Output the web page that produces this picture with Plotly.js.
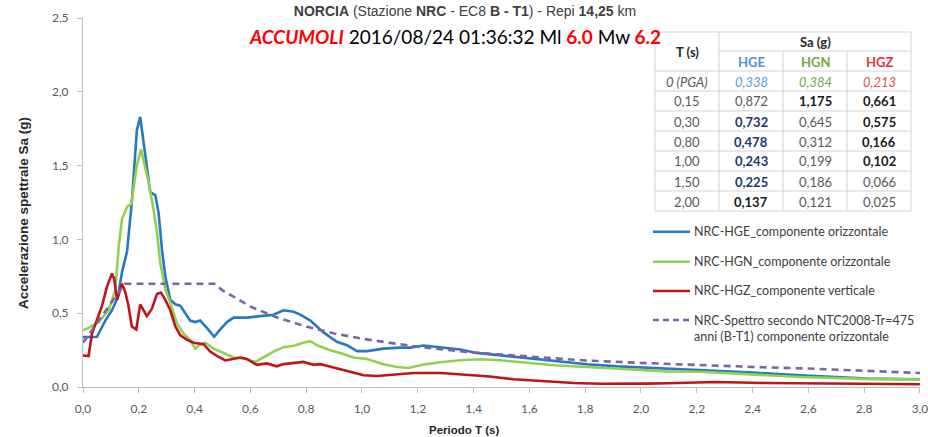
<!DOCTYPE html>
<html><head><meta charset="utf-8">
<script src="https://cdn.plot.ly/plotly-3.0.1.min.js"></script>
<style>html,body{margin:0;padding:0;background:#fff}#chart{width:928px;height:437px}</style>
</head><body><div id="chart"></div>
<script>
// ---------- DATA ----------
const periodHGE = [0, 0.05, 0.08, 0.104, 0.125, 0.14, 0.152, 0.158, 0.165, 0.175, 0.185, 0.193, 0.205, 0.217, 0.229, 0.241, 0.259, 0.271, 0.283, 0.295, 0.313, 0.331, 0.349, 0.367, 0.384, 0.402, 0.42, 0.444, 0.47, 0.492, 0.516, 0.54, 0.587, 0.635, 0.683, 0.719, 0.755, 0.779, 0.815, 0.862, 0.91, 0.946, 0.982, 1.018, 1.077, 1.137, 1.173, 1.221, 1.281, 1.352, 1.412, 1.496, 1.603, 1.687, 1.806, 1.914, 2.02, 2.093, 2.213, 2.4, 2.57, 2.81, 3.0];
const saHGE = [0.338, 0.34, 0.45, 0.52, 0.61, 0.78, 0.872, 0.92, 1.06, 1.25, 1.52, 1.74, 1.83, 1.66, 1.48, 1.32, 1.30, 1.18, 0.93, 0.75, 0.59, 0.56, 0.55, 0.50, 0.45, 0.44, 0.45, 0.40, 0.34, 0.39, 0.44, 0.47, 0.47, 0.48, 0.49, 0.52, 0.51, 0.49, 0.45, 0.37, 0.306, 0.283, 0.243, 0.243, 0.26, 0.267, 0.267, 0.281, 0.267, 0.254, 0.231, 0.215, 0.193, 0.177, 0.154, 0.14, 0.131, 0.125, 0.118, 0.098, 0.079, 0.057, 0.052];

const periodHGN = [0, 0.02, 0.056, 0.092, 0.116, 0.128, 0.14, 0.158, 0.173, 0.181, 0.193, 0.208, 0.223, 0.235, 0.253, 0.265, 0.277, 0.295, 0.313, 0.337, 0.361, 0.384, 0.402, 0.414, 0.438, 0.468, 0.504, 0.54, 0.587, 0.617, 0.647, 0.683, 0.719, 0.755, 0.79, 0.814, 0.839, 0.886, 0.922, 0.97, 1.018, 1.077, 1.125, 1.167, 1.221, 1.281, 1.352, 1.424, 1.496, 1.591, 1.687, 1.806, 1.926, 2.093, 2.213, 2.4, 2.57, 2.8, 3.0];
const saHGN = [0.384, 0.40, 0.44, 0.52, 0.66, 0.95, 1.14, 1.22, 1.24, 1.36, 1.50, 1.61, 1.48, 1.39, 1.20, 1.05, 0.84, 0.66, 0.57, 0.43, 0.36, 0.32, 0.26, 0.28, 0.30, 0.26, 0.23, 0.20, 0.19, 0.17, 0.20, 0.24, 0.27, 0.28, 0.30, 0.31, 0.283, 0.249, 0.231, 0.20, 0.19, 0.154, 0.136, 0.129, 0.152, 0.168, 0.181, 0.188, 0.181, 0.163, 0.147, 0.136, 0.125, 0.106, 0.103, 0.085, 0.068, 0.055, 0.05];

const periodHGZ = [0, 0.02, 0.032, 0.05, 0.068, 0.086, 0.104, 0.112, 0.122, 0.14, 0.152, 0.163, 0.175, 0.191, 0.205, 0.217, 0.229, 0.247, 0.265, 0.279, 0.295, 0.313, 0.331, 0.349, 0.373, 0.396, 0.432, 0.456, 0.48, 0.51, 0.534, 0.564, 0.587, 0.623, 0.659, 0.695, 0.719, 0.755, 0.79, 0.827, 0.851, 0.898, 0.958, 1.006, 1.054, 1.113, 1.185, 1.281, 1.352, 1.448, 1.543, 1.639, 1.758, 1.854, 1.95, 2.02, 2.093, 2.27, 2.45, 2.81, 3.0];
const saHGZ = [0.213, 0.21, 0.36, 0.45, 0.55, 0.68, 0.77, 0.73, 0.59, 0.70, 0.64, 0.55, 0.41, 0.39, 0.56, 0.52, 0.48, 0.53, 0.63, 0.64, 0.59, 0.52, 0.41, 0.35, 0.32, 0.30, 0.29, 0.24, 0.21, 0.18, 0.19, 0.20, 0.19, 0.15, 0.16, 0.14, 0.155, 0.165, 0.17, 0.15, 0.155, 0.132, 0.102, 0.08, 0.075, 0.086, 0.095, 0.095, 0.084, 0.073, 0.052, 0.039, 0.027, 0.022, 0.02, 0.023, 0.025, 0.034, 0.027, 0.023, 0.019];

const periodNTC = [0, 0.15, 0.47, 0.5, 0.6, 0.7, 0.8, 0.9, 1.0, 1.2, 1.4, 1.6, 1.8, 2.0, 2.2, 2.4, 2.6, 2.8, 3.0];
const saNTC = [0.30, 0.70, 0.70, 0.655, 0.545, 0.467, 0.41, 0.363, 0.327, 0.272, 0.233, 0.204, 0.18, 0.163, 0.148, 0.136, 0.125, 0.11, 0.095];

const seriesNames = ['NRC-HGE_componente orizzontale', 'NRC-HGN_componente orizzontale', 'NRC-HGZ_componente verticale', 'NRC-Spettro secondo NTC2008-Tr=475<br>anni (B-T1) componente orizzontale'];

const tableHeaderT = 'T (s)';
const tableHeaderSa = 'Sa (g)';
const tableColumns = ['HGE', 'HGN', 'HGZ'];
const tablePeriods = ['0 (PGA)', '0,15', '0,30', '0,80', '1,00', '1,50', '2,00'];
const tableHGE = ['0,338', '0,872', '0,732', '0,478', '0,243', '0,225', '0,137'];
const tableHGN = ['0,384', '1,175', '0,645', '0,312', '0,199', '0,186', '0,121'];
const tableHGZ = ['0,213', '0,661', '0,575', '0,166', '0,102', '0,066', '0,025'];

const titleLine1 = '<b>NORCIA</b> (Stazione <b>NRC</b> - EC8 <b>B - T1</b>) - Repi <b>14,25</b> km';
const titleLine2 = '<b><i><span style="color:#ff0000">ACCUMOLI</span></i></b> 2016/08/24 01:36:32 Ml <b><span style="color:#ff0000">6.0</span></b> Mw <b><span style="color:#ff0000">6.2</span></b>';
const xTitle = 'Periodo T (s)';
const yTitle = 'Accelerazione spettrale Sa (g)';

// ---------- STYLES ----------
const colors = ['#2479c1', '#92d050', '#c0141c', '#8064a2'];
// cell style per table column: 'i' italic coloured, 'n' normal grey, 'b' bold black, 'v' bold navy
const styleHGE = ['i', 'n', 'v', 'v', 'v', 'v', 'b'];
const styleHGN = ['i', 'b', 'n', 'n', 'n', 'n', 'n'];
const styleHGZ = ['i', 'b', 'b', 'b', 'b', 'n', 'n'];
const headColors = ['#4d94d0', '#76a83c', '#e2323a'];
const pgaColors = ['#5b9bd5', '#70a840', '#e05050'];

// ---------- GEOMETRY ----------
const L = 83, R = 920, T = 18, B = 387;
const px = x => (x - L) / (R - L);
const py = y => (B - y) / (B - T);

const FONT = 'Lato, "Open Sans", sans-serif';
const TICKFONT = 'Lato, sans-serif';

const traces = [
  {x: periodHGE, y: saHGE, name: seriesNames[0], mode: 'lines', line: {color: colors[0], width: 2.6}},
  {x: periodHGN, y: saHGN, name: seriesNames[1], mode: 'lines', line: {color: colors[1], width: 2.6}},
  {x: periodHGZ, y: saHGZ, name: seriesNames[2], mode: 'lines', line: {color: colors[2], width: 2.6}},
  {x: periodNTC, y: saNTC, name: seriesNames[3], mode: 'lines', line: {color: colors[3], width: 2.6, dash: '7px,5px'}}
];
traces.forEach(t => t.showlegend = false);

const shapes = [];
const annotations = [];
const bc = '#d4d4d4';
function hline(y, x0, x1) { shapes.push({type: 'line', xref: 'paper', yref: 'paper', x0: px(x0), x1: px(x1), y0: py(y), y1: py(y), line: {color: bc, width: 1}, layer: 'above'}); }
function vline(x, y0, y1) { shapes.push({type: 'line', xref: 'paper', yref: 'paper', x0: px(x), x1: px(x), y0: py(y0), y1: py(y1), line: {color: bc, width: 1}, layer: 'above'}); }

// table
const colX = [655, 719, 783, 847, 911];
const rowTop = 71, rowH = 20;
const nRows = tablePeriods.length;
const tableBottom = rowTop + nRows * rowH;
shapes.push({type: 'rect', xref: 'paper', yref: 'paper', x0: px(colX[0]), x1: px(colX[4]), y0: py(32), y1: py(tableBottom), fillcolor: '#ffffff', line: {width: 0}, layer: 'above'});
hline(32, colX[0], colX[4]);
hline(51, colX[1], colX[4]);
for (let i = 0; i <= nRows; i++) hline(rowTop + i * rowH, colX[0], colX[4]);
vline(colX[0], 32, tableBottom);
vline(colX[1], 32, tableBottom);
vline(colX[2], 51, tableBottom);
vline(colX[3], 51, tableBottom);
vline(colX[4], 32, tableBottom);

function txt(text, x, y, font, extra) {
  annotations.push(Object.assign({text: text, xref: 'paper', yref: 'paper', x: px(x), y: py(y), xanchor: 'center', yanchor: 'middle', showarrow: false, font: font}, extra || {}));
}
const cx = i => (colX[i] + colX[i + 1]) / 2;
txt('<b>' + tableHeaderT + '</b>', cx(0), 52, {family: FONT, size: 13, color: '#262626'});
txt('<b>' + tableHeaderSa + '</b>', (colX[1] + colX[4]) / 2, 42, {family: FONT, size: 13, color: '#262626'});
tableColumns.forEach((c, i) => txt('<b>' + c + '</b>', cx(i + 1), 62, {family: FONT, size: 13, color: headColors[i]}));
const colVals = [tableHGE, tableHGN, tableHGZ];
const colStyles = [styleHGE, styleHGN, styleHGZ];
tablePeriods.forEach((p, r) => {
  const yc = rowTop + r * rowH + rowH / 2 + 0.5;
  txt(r === 0 ? '<i>' + p + '</i>' : p, cx(0), yc, {family: FONT, size: 13, color: '#595959'});
  colVals.forEach((vals, c) => {
    const s = colStyles[c][r];
    let t = vals[r], col = '#595959';
    if (s === 'i') { t = '<i>' + t + '</i>'; col = pgaColors[c]; }
    else if (s === 'b') { t = '<b>' + t + '</b>'; col = '#1a1a1a'; }
    else if (s === 'v') { t = '<b>' + t + '</b>'; col = '#1f3864'; }
    txt(t, cx(c + 1), yc, {family: FONT, size: 13, color: col});
  });
});

// legend
const legY = [231.7, 261.7, 291, 320];
seriesNames.forEach((n, i) => {
  shapes.push({type: 'line', xref: 'paper', yref: 'paper', x0: px(653), x1: px(690), y0: py(legY[i]), y1: py(legY[i]),
    line: {color: colors[i], width: 2.6, dash: i === 3 ? '6px,4px' : 'solid'}});
  const twoLine = n.indexOf('<br>') >= 0;
  annotations.push({text: n, xref: 'paper', yref: 'paper', x: px(692), y: py(twoLine ? legY[i] - 9 : legY[i]), xanchor: 'left', yanchor: twoLine ? 'top' : 'middle', align: 'left', showarrow: false, font: {family: FONT, size: 12.5, color: '#404040'}});
});

// title line 2 & axis titles
txt(titleLine2, 455, 36, {family: FONT, size: 19, color: '#000000'});
txt('<b>' + xTitle + '</b>', 464, 430, {family: 'Liberation Sans, Arial, sans-serif', size: 11.5, color: '#262626'});
txt('<b>' + yTitle + '</b>', 23, 213, {family: 'Liberation Sans, Arial, sans-serif', size: 13.5, color: '#262626'}, {textangle: -90});

const axisCommon = {showgrid: false, zeroline: false, showline: true, linecolor: '#bfbfbf', linewidth: 1,
  ticks: 'outside', ticklen: 5, tickcolor: '#bfbfbf', tickwidth: 1, tickformat: '.1f',
  tickfont: {family: TICKFONT, size: 12, color: '#595959'}, fixedrange: true, ticklabeloverflow: 'allow'};

const layout = {
  width: 928, height: 437,
  margin: {l: L, r: 928 - R, t: T, b: 437 - B, pad: 0},
  paper_bgcolor: '#ffffff', plot_bgcolor: '#ffffff',
  separators: ', ',
  title: {text: titleLine1, x: 465 / 928, xref: 'container', xanchor: 'center', y: 1 - 11 / 437, yref: 'container', yanchor: 'middle',
    font: {family: 'Liberation Sans, Arial, sans-serif', size: 14, color: '#404040'}},
  xaxis: Object.assign({}, axisCommon, {range: [0, 3.0001], tick0: 0, dtick: 0.2, ticklabelstandoff: 6}),
  yaxis: Object.assign({}, axisCommon, {range: [0, 2.5], tick0: 0, dtick: 0.5, ticklabelstandoff: 6}),
  shapes: shapes,
  annotations: annotations,
  showlegend: false
};

Plotly.newPlot('chart', traces, layout, {displayModeBar: false, staticPlot: true});
</script>
</body></html>
